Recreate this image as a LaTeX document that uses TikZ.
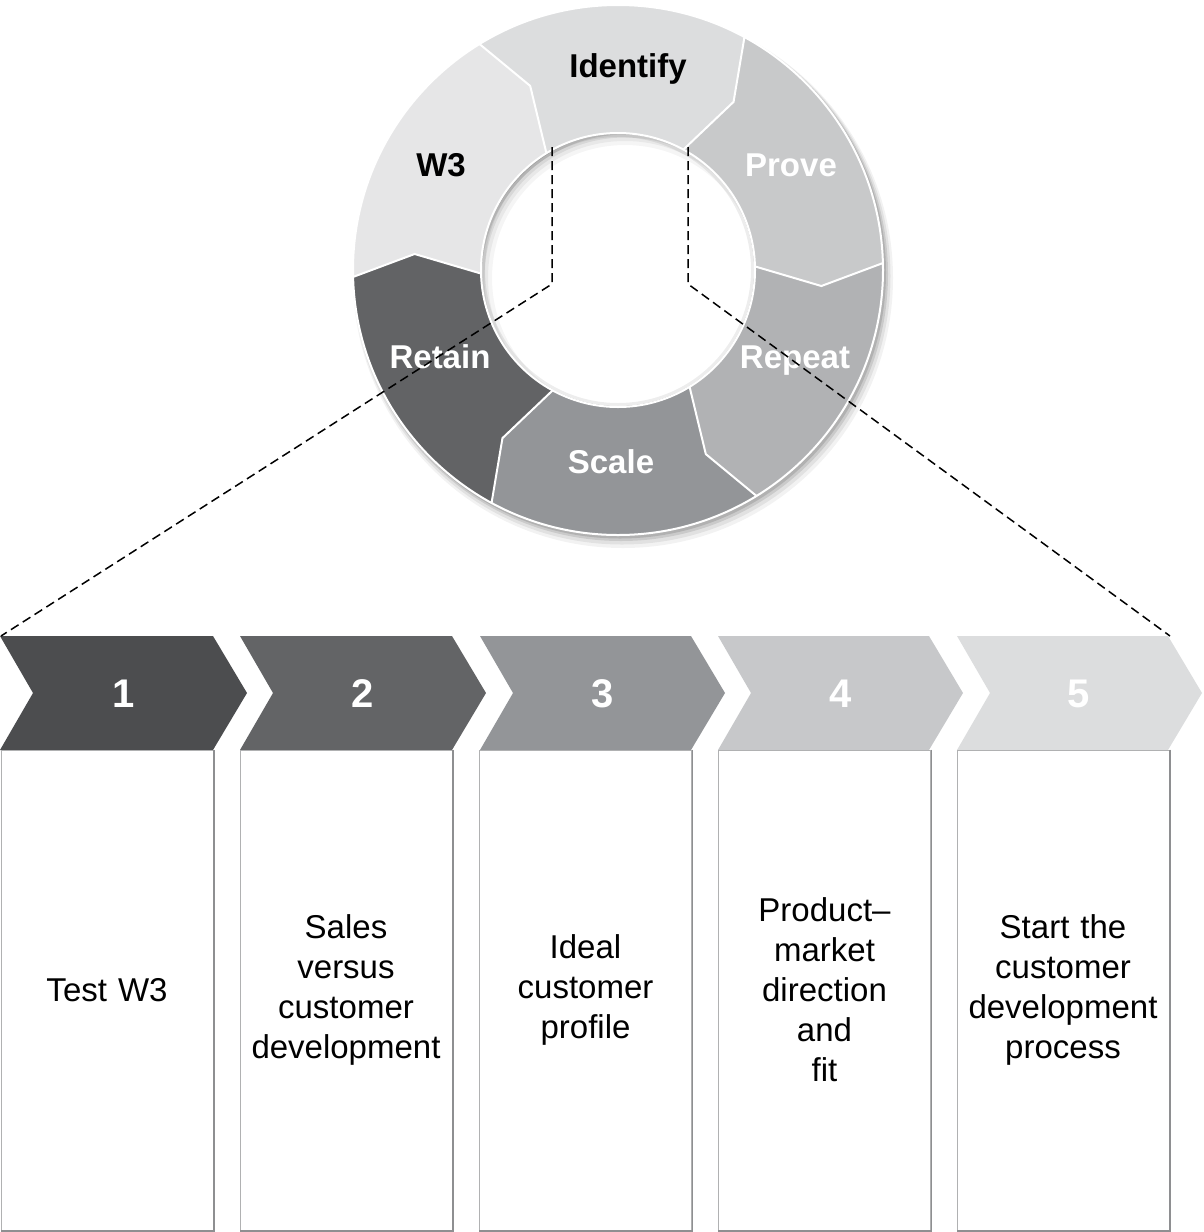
\documentclass[tikz,border=0pt]{standalone}
\usepackage{fontspec}
\setmainfont{Liberation Sans}
\usetikzlibrary{calc}
\definecolor{cIdent}{HTML}{DCDDDE}
\definecolor{cWthree}{HTML}{E6E6E7}
\definecolor{cRetain}{HTML}{626365}
\definecolor{cScale}{HTML}{939598}
\definecolor{cRepeat}{HTML}{B1B2B4}
\definecolor{cProve}{HTML}{C8C9CA}
\definecolor{chA}{HTML}{4C4D4F}
\definecolor{chB}{HTML}{636466}
\definecolor{chC}{HTML}{939598}
\definecolor{chD}{HTML}{C7C8CA}
\definecolor{chE}{HTML}{DCDDDE}
\definecolor{boxgray}{HTML}{8E8F91}
\begin{document}
\begin{tikzpicture}[x=1pt,y=-1pt,
  seglabel/.style={font=\fontsize{33}{40}\selectfont\bfseries, anchor=base, inner sep=0pt},
  numlabel/.style={font=\fontsize{40}{48}\selectfont\bfseries, text=white, anchor=base, inner sep=0pt},
  boxnode/.style={draw=boxgray!70, line width=0.9pt, minimum width=212pt, minimum height=480pt, inner sep=0pt, align=center, text width=205pt, font=\fontsize{33}{40}\selectfont},
  conn/.style={dash pattern=on 9pt off 5pt, line width=1.5pt}
]
\useasboundingbox (0,0) rectangle (1203,1232);

% ---------------- ring ----------------
\begin{scope}[shift={(618,270)}, yscale=-1]
  % outer drop shadow
  \fill[black, opacity=0.05] (5,-8) circle (270);
  \fill[black, opacity=0.07] (4,-6) circle (268.5);
  \fill[black, opacity=0.10] (3,-4) circle (267);
  \fill[black, opacity=0.12] (2,-2.5) circle (266);
  % segments
  \foreach \a/\col in {1.5/cProve, 61.5/cIdent, 121.5/cWthree, 181.5/cRetain, 241.5/cScale, 301.5/cRepeat}{
    \pgfmathsetmacro\b{\a+60}
    \pgfmathsetmacro\bn{\a+54}
    \pgfmathsetmacro\an{\a-6}
    \fill[\col] (\a:265) arc[start angle=\a, end angle=\b, radius=265]
      -- (\bn:204) -- (\b:137) arc[start angle=\b, end angle=\a, radius=137]
      -- (\an:204) -- cycle;
  }
  \foreach \a in {1.5, 61.5, 121.5, 181.5, 241.5, 301.5}{
    \pgfmathsetmacro\an{\a-6}
    \draw[white, line width=2pt, line join=miter] (\a:265) -- (\an:204) -- (\a:137);
  }
  \draw[white, line width=2pt] (0,0) circle (265);
  % inner hole
  \fill[white] (0,0) circle (136);
  \begin{scope}
    \clip (0,0) circle (136);
    \foreach \w/\o in {30/0.04, 22/0.05, 15/0.07, 9/0.10, 4/0.14}{
      \draw[black, opacity=\o, line width=\w pt] (7,-8) circle (148);
    }
    \draw[black, opacity=0.07, line width=6pt] (0,0) circle (136);
  \end{scope}
  \draw[white, line width=2pt] (0,0) circle (137);
\end{scope}

% ring labels
\node[seglabel] (lident) at (628,77) {Identify};
\node[seglabel] (lw3) at (441,176.5) {W3};
\node[seglabel, text=white] (lprove) at (791,176.5) {Prove};
\node[seglabel, text=white] (lretain) at (440,368) {Retain};
\node[seglabel, text=white] (lrepeat) at (795,368) {Repeat};
\node[seglabel, text=white] (lscale) at (611,473) {Scale};

% ---------------- chevrons ----------------
\foreach \L/\R/\col in {0/213/chA, 240/452/chB, 480/691/chC, 718/929/chD, 957/1168/chE}{
  \fill[\col] (\L,636) -- (\R,636) -- ({\R+34},693) -- (\R,750) -- (\L,750) -- ({\L+33},693) -- cycle;
}
\node[numlabel] (n1) at (123.5,707) {1};
\node[numlabel] (n2) at (363,707) {2};
\node[numlabel] (n3) at (602.5,707) {3};
\node[numlabel] (n4) at (841,707) {4};
\node[numlabel] (n5) at (1079,707) {5};

% ---------------- boxes ----------------
\node[boxnode] (b1) at (107,990) {Test W3};
\node[boxnode] (b2) at (346,990) {Sales\\versus\\customer\\development};
\node[boxnode] (b3) at (585.5,990) {Ideal\\customer\\profile};
\node[boxnode] (b4) at (824.5,990) {Product–\\market\\direction\\and\\fit};
\node[boxnode] (b5) at (1063,990) {Start the\\customer\\development\\process};
\foreach \b in {b1,b2,b3,b4,b5}{
  \draw[boxgray, line width=1.5pt] ($(\b.north east)+(0.6,0)$) -- ($(\b.south east)+(0.6,0.6)$) -- ($(\b.south west)+(0,0.6)$);
}

% ---------------- dashed connectors ----------------
\coordinate (dl1) at (552,147);
\coordinate (dl2) at (552,284);
\coordinate (dr1) at (688,147);
\coordinate (dr2) at (688,284);
\coordinate (c1tl) at (1,636);
\coordinate (c5tr) at (1170,636);
\draw[conn] (dl1) -- (dl2) -- (c1tl);
\draw[conn] (dr1) -- (dr2) -- (c5tr);
\end{tikzpicture}
\end{document}
